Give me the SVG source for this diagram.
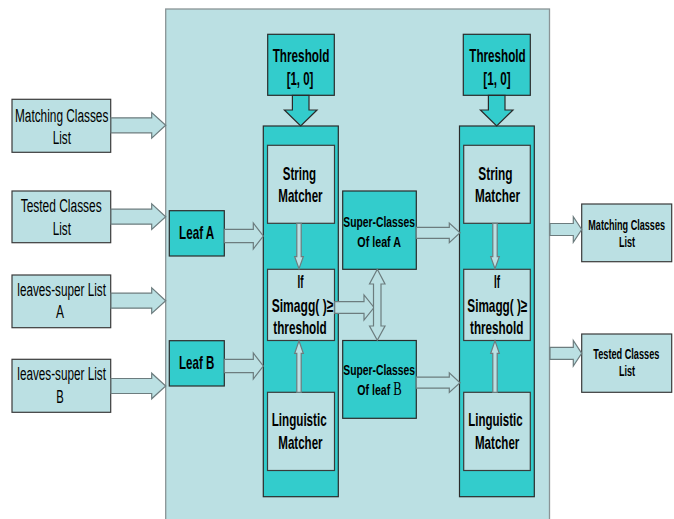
<svg xmlns="http://www.w3.org/2000/svg" width="674" height="519" viewBox="0 0 674 519">
<style>
.bg{fill:#ffffff}
.main{fill:#BBE0E3;stroke:#8a9496;stroke-width:1.3}
.lbox{fill:#BBE0E3;stroke:#3a3a3a;stroke-width:1.2}
.tbox{fill:#33CCCC;stroke:#2a2a2a;stroke-width:1.2}
.arr{fill:#BBE0E3;stroke:#6c7c7e;stroke-width:1.2;stroke-linejoin:miter}
.tarr{fill:#33CCCC;stroke:#2a2a2a;stroke-width:1.2}
text{font-family:"Liberation Sans",Arial,sans-serif;fill:#000}
.r{font-size:18px}
.b{font-size:19px;font-weight:bold}
.s{font-size:15px;font-weight:bold}
.o{font-size:14px;font-weight:bold}
.serif{font-family:"Liberation Serif","Times New Roman",serif;font-size:18px;font-weight:normal}
</style>
<rect class="bg" x="0" y="0" width="674" height="519"/>
<g id="container"><rect class="main" x="165.7" y="9" width="383.8" height="520"/></g>

<g id="in-matching"><rect class="lbox" x="12" y="99.3" width="98.7" height="53"/>
<text class="r" x="15" y="121.5" textLength="93.3" lengthAdjust="spacingAndGlyphs">Matching Classes</text>
<text class="r" x="52.7" y="144" textLength="18.3" lengthAdjust="spacingAndGlyphs">List</text></g>
<g id="in-tested"><rect class="lbox" x="12" y="191" width="98.7" height="51.7"/>
<text class="r" x="20.7" y="212" textLength="81" lengthAdjust="spacingAndGlyphs">Tested Classes</text>
<text class="r" x="52.7" y="235" textLength="18.3" lengthAdjust="spacingAndGlyphs">List</text></g>
<g id="in-leavesA"><rect class="lbox" x="12" y="275" width="98.7" height="52.7"/>
<text class="r" x="17.3" y="296" textLength="88.7" lengthAdjust="spacingAndGlyphs">leaves-super List</text>
<text class="r" x="56" y="318.3" textLength="8" lengthAdjust="spacingAndGlyphs">A</text></g>
<g id="in-leavesB"><rect class="lbox" x="12" y="359.3" width="98.7" height="53"/>
<text class="r" x="17.3" y="380" textLength="88.7" lengthAdjust="spacingAndGlyphs">leaves-super List</text>
<text class="r" x="56.3" y="402.7" textLength="7.5" lengthAdjust="spacingAndGlyphs">B</text></g>

<g id="leafA"><rect class="tbox" x="169.3" y="210.7" width="55" height="45.3"/>
<text class="b" x="179" y="239.3" textLength="35.3" lengthAdjust="spacingAndGlyphs">Leaf A</text></g>
<g id="leafB"><rect class="tbox" x="169.3" y="340.7" width="55" height="45.3"/>
<text class="b" x="179" y="369.3" textLength="35.3" lengthAdjust="spacingAndGlyphs">Leaf B</text></g>

<g id="matcher1"><rect class="tbox" x="263.3" y="126" width="75" height="370.7"/></g>
<g id="matcher2"><rect class="tbox" x="459.5" y="126" width="74.8" height="370.7"/></g>

<g id="threshold1"><rect class="tbox" x="267.7" y="34.3" width="66.6" height="61"/>
<text class="b" x="272.7" y="62.3" textLength="56.7" lengthAdjust="spacingAndGlyphs">Threshold</text>
<text class="b" x="286.7" y="85" textLength="26.7" lengthAdjust="spacingAndGlyphs">[1, 0]</text></g>
<g id="threshold2"><rect class="tbox" x="463.3" y="34.3" width="67" height="61"/>
<text class="b" x="469.3" y="62.3" textLength="56.3" lengthAdjust="spacingAndGlyphs">Threshold</text>
<text class="b" x="483.3" y="85" textLength="27.3" lengthAdjust="spacingAndGlyphs">[1, 0]</text></g>

<g id="string1"><rect class="lbox" x="267.5" y="145.3" width="67" height="78"/>
<text class="b" x="282.7" y="180" textLength="33.3" lengthAdjust="spacingAndGlyphs">String</text>
<text class="b" x="278.3" y="201.7" textLength="44.3" lengthAdjust="spacingAndGlyphs">Matcher</text></g>
<g id="if1"><rect class="lbox" x="267.5" y="269.3" width="67" height="71.2"/>
<text class="b" x="297.5" y="288.3" textLength="6" lengthAdjust="spacingAndGlyphs">If</text>
<text class="b" x="271.7" y="311.7" textLength="61.7" lengthAdjust="spacingAndGlyphs">Simagg( )≥</text>
<text class="b" x="273.3" y="334" textLength="53.3" lengthAdjust="spacingAndGlyphs">threshold</text></g>
<g id="ling1"><rect class="lbox" x="267.5" y="392.3" width="67" height="78.2"/>
<text class="b" x="271.7" y="426" textLength="55" lengthAdjust="spacingAndGlyphs">Linguistic</text>
<text class="b" x="278.3" y="449" textLength="44.3" lengthAdjust="spacingAndGlyphs">Matcher</text></g>

<g id="string2"><rect class="lbox" x="463.7" y="145.3" width="66.6" height="78"/>
<text class="b" x="478.3" y="180" textLength="34.3" lengthAdjust="spacingAndGlyphs">String</text>
<text class="b" x="475" y="201.7" textLength="45" lengthAdjust="spacingAndGlyphs">Matcher</text></g>
<g id="if2"><rect class="lbox" x="463.7" y="269.3" width="66.6" height="71.2"/>
<text class="b" x="494" y="288.3" textLength="6" lengthAdjust="spacingAndGlyphs">If</text>
<text class="b" x="467.3" y="311.7" textLength="60" lengthAdjust="spacingAndGlyphs">Simagg( )≥</text>
<text class="b" x="470" y="334" textLength="53.3" lengthAdjust="spacingAndGlyphs">threshold</text></g>
<g id="ling2"><rect class="lbox" x="463.7" y="392.3" width="66.6" height="78.2"/>
<text class="b" x="468.3" y="426" textLength="54.3" lengthAdjust="spacingAndGlyphs">Linguistic</text>
<text class="b" x="475" y="449" textLength="44.3" lengthAdjust="spacingAndGlyphs">Matcher</text></g>

<g id="superA"><rect class="tbox" x="342.7" y="191" width="73.6" height="78.3"/>
<text class="s" x="343.3" y="226.7" textLength="71.7" lengthAdjust="spacingAndGlyphs">Super-Classes</text>
<text class="s" x="357.3" y="246.7" textLength="43.7" lengthAdjust="spacingAndGlyphs">Of leaf A</text></g>
<g id="superB"><rect class="tbox" x="342.7" y="340.5" width="73.6" height="77.8"/>
<text class="s" x="343.3" y="375" textLength="71.7" lengthAdjust="spacingAndGlyphs">Super-Classes</text>
<text class="s" transform="translate(357.3,395) scale(0.706,1)" x="0" y="0">Of leaf <tspan class="serif">B</tspan></text></g>

<g id="out-matching"><rect class="lbox" x="581.7" y="204" width="90" height="57.7"/>
<text class="o" transform="translate(588.3,230) scale(0.648,1)" x="0" y="0" textLength="118.4" lengthAdjust="spacingAndGlyphs">Matching Classes</text>
<text class="o" transform="translate(619,246.5) scale(0.648,1)" x="0" y="0">List</text></g>
<g id="out-tested"><rect class="lbox" x="581.7" y="334" width="90" height="58.3"/>
<text class="o" transform="translate(593.3,359) scale(0.648,1)" x="0" y="0" textLength="101.9" lengthAdjust="spacingAndGlyphs">Tested Classes</text>
<text class="o" transform="translate(619,376) scale(0.648,1)" x="0" y="0">List</text></g>

<g id="connectors">
<polygon class="arr" points="111,117.8 151.7,117.8 151.7,112.5 165.7,125.3 151.7,138.1 151.7,132.8 111,132.8"/>
<polygon class="arr" points="111,209.2 151.7,209.2 151.7,203.9 165.7,216.7 151.7,229.5 151.7,224.2 111,224.2"/>
<polygon class="arr" points="111,293.2 151.7,293.2 151.7,287.9 165.7,300.7 151.7,313.5 151.7,308.2 111,308.2"/>
<polygon class="arr" points="111,378.5 151.7,378.5 151.7,373.2 165.7,386 151.7,398.8 151.7,393.5 111,393.5"/>
<polygon class="arr" points="224.3,229.3 253.3,229.3 253.3,223 263.3,236 253.3,249 253.3,242.7 224.3,242.7"/>
<polygon class="arr" points="224.3,359.3 253.3,359.3 253.3,353 263.3,366 253.3,379 253.3,372.7 224.3,372.7"/>
<polygon class="arr" points="334.7,301.7 364,301.7 364,295 374,307.5 364,320 364,313.3 334.7,313.3"/>
<polygon class="arr" points="416.3,227.3 449.3,227.3 449.3,223 460,232.8 449.3,242.6 449.3,238.3 416.3,238.3"/>
<polygon class="arr" points="416.3,377.2 449.3,377.2 449.3,372.9 460,382.7 449.3,392.5 449.3,388.2 416.3,388.2"/>
<polygon class="arr" points="550,223.5 573.3,223.5 573.3,216.7 581.7,229.5 573.3,242.3 573.3,235.5 550,235.5"/>
<polygon class="arr" points="550,347.3 573.3,347.3 573.3,340.5 581.7,353.3 573.3,366.1 573.3,359.3 550,359.3"/>
<polygon class="arr" points="377.3,269.3 385,284 381,284 381,326 385,326 377.3,340.3 369.5,326 373.5,326 373.5,284 369.5,284"/>
<polygon class="arr" points="296.8,223.3 301.2,223.3 301.2,256.7 303.3,256.7 299,268.8 294.7,256.7 296.8,256.7"/>
<polygon class="arr" points="492.8,223.3 497.2,223.3 497.2,256.7 499.3,256.7 495,268.8 490.7,256.7 492.8,256.7"/>
<polygon class="arr" points="296.8,392.3 301.2,392.3 301.2,353.3 303.3,353.3 299,340.8 294.7,353.3 296.8,353.3"/>
<polygon class="arr" points="492.8,392.3 497.2,392.3 497.2,353.3 499.3,353.3 495,340.8 490.7,353.3 492.8,353.3"/>
<polygon class="tarr" points="292.4,95.3 309,95.3 309,110 317,110 300.7,126 284.4,110 292.4,110"/>
<polygon class="tarr" points="488.4,95.3 505,95.3 505,110 513,110 496.7,126 480.4,110 488.4,110"/>
</g>
</svg>
